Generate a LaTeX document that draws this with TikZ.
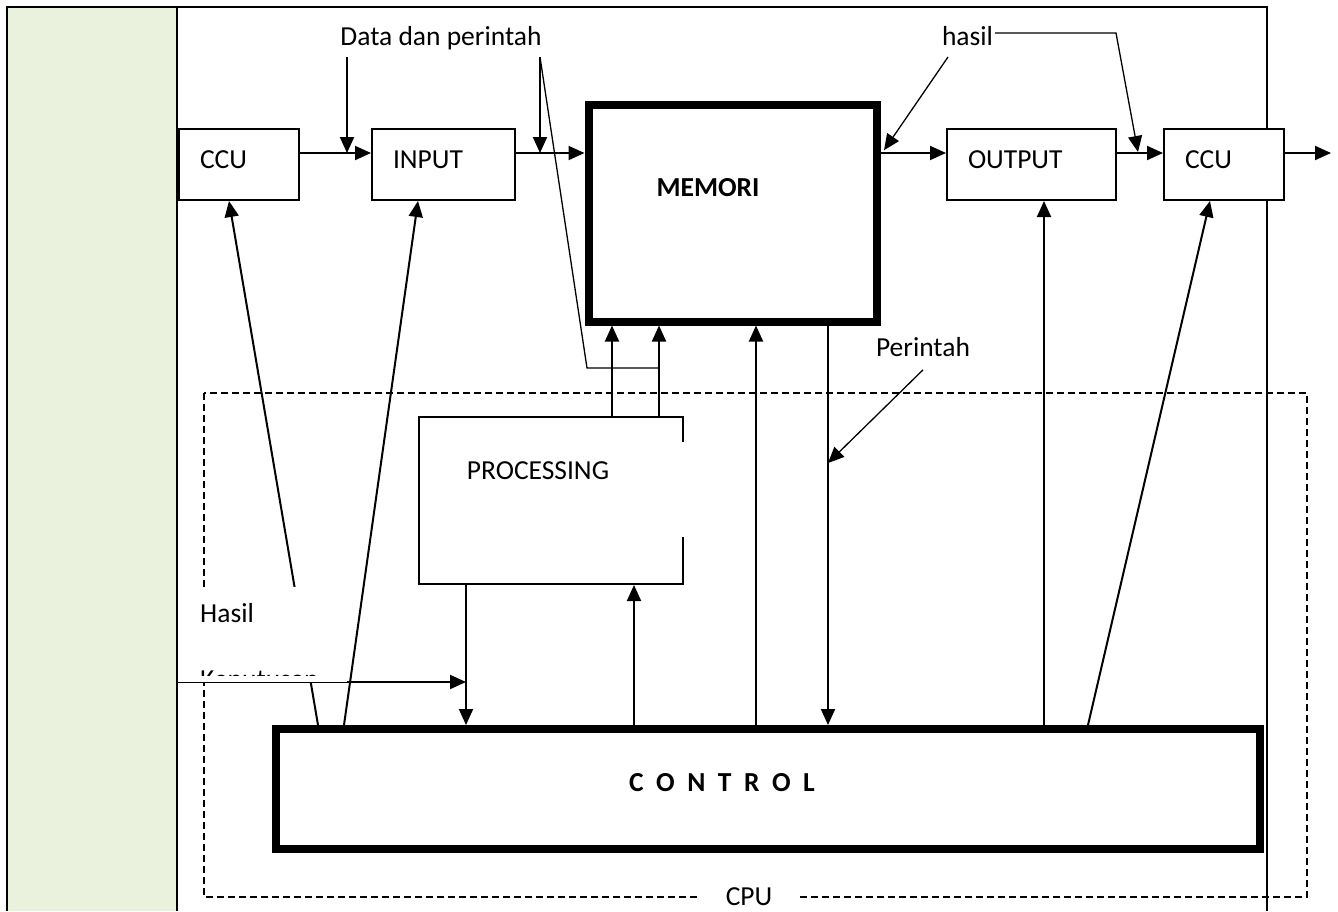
\documentclass[tikz,border=0pt]{standalone}
\usepackage{fontspec}
\setmainfont{Carlito}
\usetikzlibrary{arrows.meta,calc}
\definecolor{cellgreen}{HTML}{EAF1DD}

\begin{document}
\begin{tikzpicture}[
  x=1pt, y=-1pt,
  font=\fontsize{27.5}{33}\selectfont, >={Triangle[length=16pt,width=14pt]},
  unit/.style={draw, line width=2pt, fill=white, minimum height=71, align=left, inner xsep=21, text depth=10pt},
  bigbox/.style={draw, line width=8pt, fill=white},
  wire/.style={line width=2pt},
  ptr/.style={line width=1.3pt},
  lbl/.style={inner sep=2pt},
]
\useasboundingbox (0,0) rectangle (1338,911);
% table cell
\fill[cellgreen] (7,7) rectangle (177,911);
\draw[line width=2pt] (7,911) -- (7,7) -- (1267,7) -- (1267,911);
\draw[line width=2pt] (177,7) -- (177,911);
% CPU frame
\draw[line width=1.5pt, dash pattern=on 7pt off 4pt] (204,393) rectangle (1307,897);
\node[fill=white, inner xsep=26, inner ysep=1] (cpu) at (749,897) {CPU};
% units
\node[unit, text width=78] (ccuin) at (239,164.5) {CCU};
\node[unit, text width=101] (input) at (443.5,164.5) {INPUT};
\node[bigbox, minimum width=288, minimum height=216.5] (mem) at (732.5,213.25) {};
\node (memlbl) at (708,188) {\bfseries MEMORI};
\node[unit, text width=127] (output) at (1031.5,164.5) {OUTPUT};
\node[unit, text width=78] (ccuout) at (1224,164.5) {CCU};
\node[draw, line width=2pt, fill=white, minimum width=264, minimum height=167] (proc) at (551,500.5) {};
\fill[white] (681,442) rectangle (686,537);
\node (proclbl) at (538,470.5) {PROCESSING};
\node[bigbox, minimum width=984, minimum height=120] (ctrl) at (768,789) {};
\node (ctrllbl) at (722,783) {\bfseries\spaceskip=12.5pt C O N T R O L};
% labels
\node[lbl] (dp) at (441,38) {Data dan perintah};
\node[lbl] (hs) at (967.5,36.5) {hasil};
\node[lbl] (per) at (923,347) {Perintah};
% flows along the top
\coordinate (bus) at (0,153);
\coordinate (exit) at (1331,153);
\draw[wire,->] (ccuin.east |- bus) -- (input.west |- bus);
\draw[wire,->] (input.east |- bus) -- (mem.west |- bus);
\draw[wire,->] (mem.east |- bus) -- (output.west |- bus);
\draw[wire,->] (output.east |- bus) -- (ccuout.west |- bus);
\draw[wire,->] (ccuout.east |- bus) -- (exit);
% data dan perintah
\coordinate (d1) at (347,57);
\coordinate (d2) at (540,57);
\coordinate (dk) at (587,368);
\coordinate (p1) at (612,368);
\coordinate (p2) at (659,368);
\draw[wire,->] (d1) -- (d1 |- bus);
\draw[wire,->] (d2) -- (d2 |- bus);
\draw[ptr] (d2) -- (dk) -- (p2);
\draw[wire,->] (proc.north -| p1) -- (mem.south -| p1);
\draw[wire,->] (proc.north -| p2) -- (mem.south -| p2);
% hasil
\coordinate (h1) at (948,57);
\coordinate (hk) at (1116,33);
\coordinate (h2) at (1138,152);
\draw[ptr,->] (h1) -- ($(mem.east)+(3.5,-63)$);
\draw[ptr,->] (hs.east |- hk) -- (hk) -- (h2);
% memori <-> control
\coordinate (m1) at (756,600);
\coordinate (m2) at (828,463);
\draw[wire,->] (ctrl.north -| m1) -- (mem.south -| m1);
\draw[wire,->] (mem.south -| m2) -- (ctrl.north -| m2);
\draw[ptr,->] ($(per.south)+(0,11)$) -- (m2);
% processing <-> control
\coordinate (k1) at (466,682);
\coordinate (k2) at (634,650);
\draw[wire,->] (proc.south -| k1) -- (ctrl.north -| k1);
\draw[wire,->] (ctrl.north -| k2) -- (proc.south -| k2);
% control -> top units
\coordinate (o1) at (1044,460);
\draw[wire,->] ($(ctrl.north west)+(46,0)$) -- ($(ccuin.south)+(-10,0)$);
\draw[wire,->] ($(ctrl.north west)+(72,0)$) -- ($(input.south)+(-25.5,0)$);
\draw[wire,->] (ctrl.north -| o1) -- (output.south -| o1);
\draw[wire,->] ($(ctrl.north west)+(816,0)$) -- ($(ccuout.south)+(-14,0)$);
% hasil / keputusan box
\coordinate (ks) at (347,682);
\fill[white] (178,587) rectangle (ks);
\draw[line width=1pt] (178,682) -- (ks);
\node[lbl, anchor=west] (hsl) at (198,613.5) {Hasil};
\begin{scope}
  \clip (178,587) rectangle (347,675);
  \node[lbl, anchor=base west] (kep) at (198,688) {Keputusan};
\end{scope}
\draw[wire,->] (ks) -- (k1);
\end{tikzpicture}
\end{document}
